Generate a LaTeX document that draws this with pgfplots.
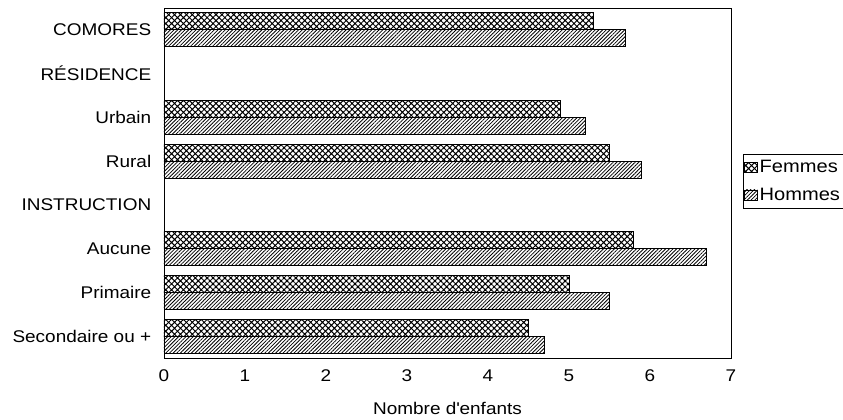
\documentclass[border=0pt]{standalone}
\usepackage{fontspec}
\setmainfont{Liberation Sans}[FakeStretch=1.12]
\usepackage{pgfplots}
\pgfplotsset{compat=1.18}
\usetikzlibrary{patterns.meta}
\begin{document}
\begin{tikzpicture}
\begin{axis}[
  at={(0,0)}, anchor=south west,
  scale only axis, width=567bp, height=350bp,
  xbar, bar width=17bp,
  xmin=0, xmax=7, ymin=-0.5, ymax=7.5,
  xtick={0,1,...,7},
  ytick={0,1,...,7},
  yticklabels={Secondaire ou +, Primaire, Aucune, INSTRUCTION, Rural, Urbain, R\'ESIDENCE, COMORES},
  /pgf/number format/assume math mode=true,
  tick label style={font=\fontsize{17}{19}\selectfont},
  ytick style={draw=none},
  xtick style={draw=none},
  yticklabel style={xshift=-5bp},
  xticklabel style={yshift=-8bp},
  xlabel={Nombre d\textquotesingle enfants},
  xlabel style={font=\fontsize{17}{19}\selectfont, yshift=-14bp},
  axis line style={black, line width=0.8pt},
  legend style={at={(1.021,0.583)}, anchor=north west, draw=black, line width=0.6pt,
    font=\fontsize{18}{20}\selectfont, inner xsep=1bp, inner ysep=4bp,
    row sep=10bp, cells={anchor=west}},
  legend image code/.code={\draw[#1, line width=0.5pt] (0bp,-5bp) rectangle (13bp,5bp);},
]
\addplot[draw=black, line width=0.9pt, bar shift=8.5bp,
  pattern={Hatch[angle=45,distance=4.2pt,line width=1pt]}, pattern color=black]
  coordinates {(4.5,0) (5.0,1) (5.8,2) (5.5,4) (4.9,5) (5.3,7)};
\addlegendentry{Femmes}
\addplot[draw=black, line width=0.9pt, bar shift=-8.5bp,
  pattern={Lines[angle=45,distance=2.6pt,line width=0.8pt]}, pattern color=black]
  coordinates {(4.7,0) (5.5,1) (6.7,2) (5.9,4) (5.2,5) (5.7,7)};
\addlegendentry{Hommes}
\end{axis}
\pgfresetboundingbox
\path[use as bounding box] (-164bp,-62bp) rectangle (679bp,358bp);
\end{tikzpicture}
\end{document}
